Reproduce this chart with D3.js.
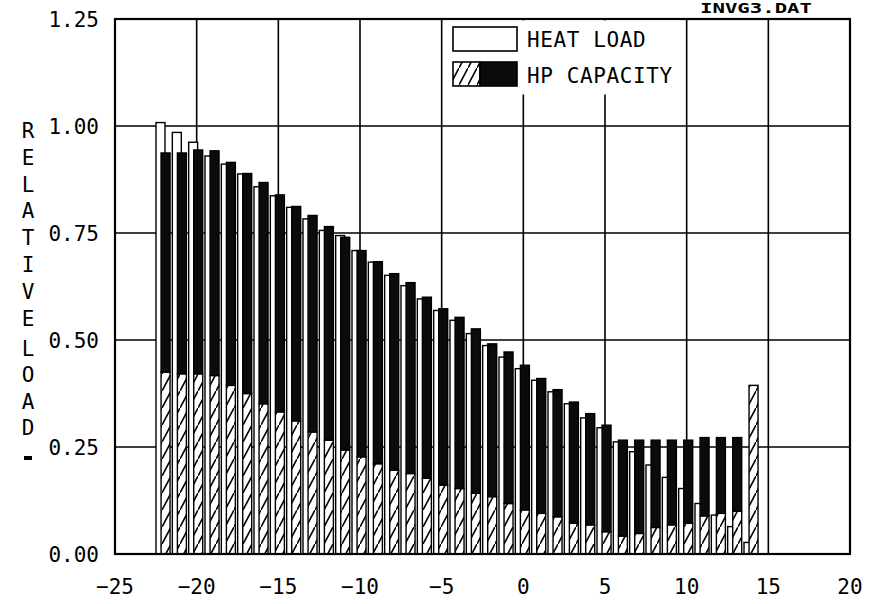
<!DOCTYPE html>
<html>
<head>
<meta charset="utf-8">
<script src="https://cdn.jsdelivr.net/npm/d3@7"></script>
<style>
  html, body { margin: 0; padding: 0; background: #fff; }
  svg { display: block; }
  text { font-family: "DejaVu Sans Mono", "Liberation Mono", monospace; fill: #000; }
</style>
</head>
<body>
<svg id="chart" width="873" height="604"></svg>
<script>
// ---------- data ----------
const temps = d3.range(-22, 15); // outdoor temperature, -22 .. 14
const heatLoad = [1.008, 0.985, 0.962, 0.930, 0.911, 0.888, 0.858, 0.837, 0.810, 0.783,
                  0.756, 0.744, 0.709, 0.682, 0.651, 0.627, 0.596, 0.569, 0.546, 0.515,
                  0.487, 0.460, 0.433, 0.406, 0.379, 0.351, 0.318, 0.295, 0.262, 0.239,
                  0.208, 0.179, 0.153, 0.118, 0.091, 0.064, 0.027];
const hpHatched = [0.425, 0.421, 0.421, 0.417, 0.394, 0.375, 0.351, 0.332, 0.311, 0.285,
                   0.266, 0.243, 0.227, 0.211, 0.196, 0.188, 0.177, 0.161, 0.153, 0.142,
                   0.134, 0.118, 0.103, 0.095, 0.087, 0.072, 0.068, 0.052, 0.042, 0.048,
                   0.062, 0.068, 0.072, 0.089, 0.095, 0.100, 0.394];
const hpCapacity = [0.937, 0.937, 0.944, 0.942, 0.915, 0.889, 0.868, 0.839, 0.812, 0.791,
                    0.765, 0.740, 0.709, 0.683, 0.655, 0.634, 0.600, 0.573, 0.553, 0.526,
                    0.491, 0.472, 0.441, 0.410, 0.384, 0.355, 0.328, 0.301, 0.266, 0.266,
                    0.266, 0.266, 0.266, 0.272, 0.272, 0.272, 0.394];
const xTicks = [-25, -20, -15, -10, -5, 0, 5, 10, 15, 20];
const yTicks = [0, 0.25, 0.5, 0.75, 1.0, 1.25];
const yTitleWord1 = ["R", "E", "L", "A", "T", "I", "V", "E"];
const yTitleWord2 = ["L", "O", "A", "D"];
const legendLabels = ["HEAT LOAD", "HP CAPACITY"];
const fileLabel = "INVG3.DAT";

(function () {
// ---------- layout ----------
const svg = d3.select("#chart");
const pLeft = 115, pRight = 850, pTop = 19, pBottom = 554;
const x = d3.scaleLinear().domain([-25, 20]).range([pLeft, pRight]);
const y = d3.scaleLinear().domain([0, 1.25]).range([pBottom, pTop]);

const defs = svg.append("defs");
const pat = defs.append("pattern")
  .attr("id", "hatch").attr("patternUnits", "userSpaceOnUse")
  .attr("width", 9).attr("height", 17);
pat.append("rect").attr("width", 9).attr("height", 17).attr("fill", "#fff");
pat.append("path").attr("d", "M0,17 L9,0").attr("stroke", "#000").attr("stroke-width", 1.6);

// grid (behind bars)
const grid = svg.append("g");
grid.selectAll("line.v").data(xTicks.filter(d => d > -25 && d < 20)).join("line")
  .attr("class", "v")
  .attr("x1", d => x(d)).attr("x2", d => x(d))
  .attr("y1", pTop).attr("y2", pBottom)
  .attr("stroke", "#000").attr("stroke-width", 1.6);
grid.selectAll("line.h").data(yTicks.filter(d => d > 0 && d < 1.25)).join("line")
  .attr("class", "h")
  .attr("x1", pLeft).attr("x2", pRight)
  .attr("y1", d => y(d)).attr("y2", d => y(d))
  .attr("stroke", "#000").attr("stroke-width", 1.6);

// bars
const rows = temps.map((t, i) => ({ t, load: heatLoad[i], hatch: hpHatched[i], cap: hpCapacity[i] }));
const g = svg.append("g").selectAll("g").data(rows).join("g");

// heat load (white)
g.append("rect")
  .attr("x", d => x(d.t - 0.49))
  .attr("width", x(0.06) - x(-0.49))
  .attr("y", d => y(d.load))
  .attr("height", d => y(0) - y(d.load))
  .attr("fill", "#fff").attr("stroke", "#000").attr("stroke-width", 1.4);

// HP capacity: hatched lower part
g.append("rect")
  .attr("x", d => x(d.t - 0.18))
  .attr("width", x(0.37) - x(-0.18))
  .attr("y", d => y(d.hatch))
  .attr("height", d => y(0) - y(d.hatch))
  .attr("fill", "url(#hatch)").attr("stroke", "#000").attr("stroke-width", 1.4);

// HP capacity: black upper part
g.filter(d => d.cap > d.hatch).append("rect")
  .attr("x", d => x(d.t - 0.18))
  .attr("width", x(0.37) - x(-0.18))
  .attr("y", d => y(d.cap))
  .attr("height", d => y(d.hatch) - y(d.cap))
  .attr("fill", "#0b0b0b").attr("stroke", "#000").attr("stroke-width", 1.4);

// frame
svg.append("rect")
  .attr("x", pLeft).attr("y", pTop)
  .attr("width", pRight - pLeft).attr("height", pBottom - pTop)
  .attr("fill", "none").attr("stroke", "#000").attr("stroke-width", 2.2);

// legend
const lg = svg.append("g");
lg.append("rect").attr("x", x(-4.8)).attr("y", pTop + 1.5).attr("width", 234).attr("height", 74).attr("fill", "#fff");
lg.append("rect").attr("x", 453).attr("y", 27).attr("width", 64).attr("height", 24)
  .attr("fill", "#fff").attr("stroke", "#000").attr("stroke-width", 1.6);
lg.append("rect").attr("x", 453).attr("y", 62).attr("width", 27).attr("height", 24)
  .attr("fill", "url(#hatch)").attr("stroke", "#000").attr("stroke-width", 1.6);
lg.append("rect").attr("x", 480).attr("y", 62).attr("width", 37).attr("height", 24)
  .attr("fill", "#0b0b0b").attr("stroke", "#000").attr("stroke-width", 1.6);
lg.selectAll("text").data(legendLabels).join("text")
  .attr("x", 527).attr("y", (d, i) => 47 + i * 36)
  .attr("font-size", 21).attr("letter-spacing", 0.6).text(d => d);

// x tick labels
svg.append("g").selectAll("text").data(xTicks).join("text")
  .attr("x", d => x(d)).attr("y", 594)
  .attr("text-anchor", "middle").attr("font-size", 21)
  .text(d => d3.format("d")(d));

// y tick labels
svg.append("g").selectAll("text").data(yTicks).join("text")
  .attr("x", 99).attr("y", d => y(d) + 7.5)
  .attr("text-anchor", "end").attr("font-size", 21)
  .text(d => d3.format(".2f")(d));

// y title (stacked letters)
const tg = svg.append("g").attr("font-size", 21);
tg.selectAll("text.w1").data(yTitleWord1).join("text")
  .attr("class", "w1")
  .attr("x", 28).attr("y", (d, i) => 138 + i * 26.8)
  .attr("text-anchor", "middle").text(d => d);
tg.selectAll("text.w2").data(yTitleWord2).join("text")
  .attr("class", "w2")
  .attr("x", 28).attr("y", (d, i) => 356 + i * 26.4)
  .attr("text-anchor", "middle").text(d => d);
tg.append("rect").attr("x", 24).attr("y", 456).attr("width", 8).attr("height", 4).attr("fill", "#000");

// file label (at the top edge)
svg.append("text").attr("x", 700).attr("y", 13)
  .attr("font-size", 14).attr("font-weight", "bold")
  .attr("textLength", 112).attr("lengthAdjust", "spacingAndGlyphs")
  .text(fileLabel);
})();
</script>
</body>
</html>
